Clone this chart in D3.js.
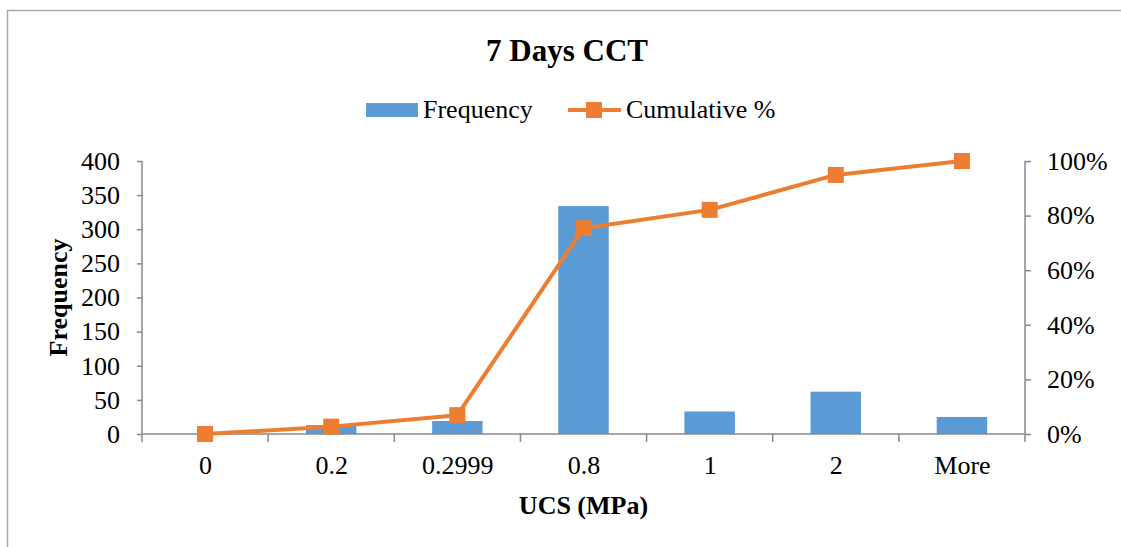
<!DOCTYPE html>
<html>
<head>
<meta charset="utf-8">
<script src="https://cdn.jsdelivr.net/npm/d3@7"></script>
<style>
  html, body { margin: 0; background: #fff; overflow: hidden; }
  svg { display: block; }
  text { font-family: "Liberation Serif", "Times New Roman", serif; fill: #000; }
</style>
</head>
<body>
<div id="graphic"></div>
<script>
//data
var categories = ["0", "0.2", "0.2999", "0.8", "1", "2", "More"];
var frequency = [0, 13, 19, 334, 33, 62, 25];
var cumulative = [0, 2.7, 6.9, 75.4, 82.1, 94.9, 100];
var freqTicks = [0, 50, 100, 150, 200, 250, 300, 350, 400];
var pctTicks = [0, 20, 40, 60, 80, 100];

var colors = { bar: "#5B9BD5", line: "#ED7D31", axis: "#898989" };

var width = 1121, height = 547;
var margin = { top: 161, left: 142, right: 96, bottom: 113 };
var w = width - margin.left - margin.right;
var h = height - margin.top - margin.bottom;

var svg = d3.select("#graphic").append("svg")
    .attr("width", width)
    .attr("height", height);

//chart frame: only top and left edges are in view
svg.append("line")
    .attr("x1", 7.5).attr("x2", 7.5)
    .attr("y1", 10).attr("y2", height)
    .attr("stroke", "#a6a6a6").attr("stroke-width", 1.5);
svg.append("line")
    .attr("x1", 7).attr("x2", width + 10)
    .attr("y1", 10.5).attr("y2", 10.5)
    .attr("stroke", "#a6a6a6").attr("stroke-width", 1.5);

var g = svg.append("g").attr("transform", "translate(" + margin.left + "," + margin.top + ")");

var x = d3.scaleBand().domain(categories).range([0, w]).paddingInner(0.6).paddingOuter(0.3);
var xPos = d3.scalePoint().domain(categories).range([0, w]).padding(0.5);
var y = d3.scaleLinear().domain([0, 400]).range([h, 0]);
var y2 = d3.scaleLinear().domain([0, 100]).range([h, 0]);

//bars
g.selectAll("rect.bar")
    .data(frequency)
    .enter().append("rect")
        .attr("class", "bar")
        .attr("x", function(d, i) { return xPos(categories[i]) - x.bandwidth() / 2; })
        .attr("y", function(d) { return y(d); })
        .attr("width", x.bandwidth())
        .attr("height", function(d) { return h - y(d); })
        .attr("fill", colors.bar);

//left axis
var yAxis = g.append("g")
    .call(d3.axisLeft(y).tickValues(freqTicks).tickSize(5).tickPadding(17));
//right axis
var y2Axis = g.append("g")
    .attr("transform", "translate(" + w + ",0)")
    .call(d3.axisRight(y2).tickValues(pctTicks).tickSize(6).tickPadding(16)
        .tickFormat(function(d) { return d + "%"; }));
//bottom axis, ticks between categories
var step = w / categories.length;
var xAxis = g.append("g")
    .attr("transform", "translate(0," + h + ")")
    .call(d3.axisBottom(xPos).tickSize(0).tickPadding(22));
xAxis.selectAll(".sep")
    .data(d3.range(categories.length + 1))
    .enter().append("line")
        .attr("class", "sep")
        .attr("x1", function(d) { return d * step; })
        .attr("x2", function(d) { return d * step; })
        .attr("y1", 0).attr("y2", 8);

[yAxis, y2Axis, xAxis].forEach(function(a) {
    a.selectAll("path").attr("stroke", colors.axis).attr("stroke-width", 1.5);
    a.selectAll("line").attr("stroke", colors.axis).attr("stroke-width", 1.5);
    a.selectAll("text").style("font-size", "26px").attr("fill", "#000");
});
yAxis.select("path").attr("d", "M0,0V" + h);
y2Axis.select("path").attr("d", "M0,0V" + h);
xAxis.select("path").attr("d", "M0,0H" + w);

//cumulative line
var line = d3.line()
    .x(function(d, i) { return xPos(categories[i]); })
    .y(function(d) { return y2(d); });

g.append("path")
    .datum(cumulative)
    .attr("d", line)
    .attr("fill", "none")
    .attr("stroke", colors.line)
    .attr("stroke-width", 4)
    .attr("stroke-linejoin", "round");

var mk = 16;
g.selectAll("rect.marker")
    .data(cumulative)
    .enter().append("rect")
        .attr("class", "marker")
        .attr("x", function(d, i) { return xPos(categories[i]) - mk / 2; })
        .attr("y", function(d) { return y2(d) - mk / 2; })
        .attr("width", mk).attr("height", mk)
        .attr("fill", colors.line);

//title
svg.append("text")
    .attr("x", 567).attr("y", 61)
    .attr("text-anchor", "middle")
    .style("font-size", "31px").style("font-weight", "bold")
    .text("7 Days CCT");

//axis titles
svg.append("text")
    .attr("x", margin.left + w / 2).attr("y", 514)
    .attr("text-anchor", "middle")
    .style("font-size", "26px").style("font-weight", "bold")
    .text("UCS (MPa)");

svg.append("text")
    .attr("transform", "translate(67," + (margin.top + h / 2) + ") rotate(-90)")
    .attr("text-anchor", "middle")
    .style("font-size", "26px").style("font-weight", "bold")
    .text("Frequency");

//legend
var legend = svg.append("g").attr("class", "legend");
legend.append("rect")
    .attr("x", 366).attr("y", 103)
    .attr("width", 52).attr("height", 14)
    .attr("fill", colors.bar);
legend.append("text")
    .attr("x", 423).attr("y", 118)
    .style("font-size", "26px")
    .text("Frequency");
legend.append("line")
    .attr("x1", 568).attr("x2", 621)
    .attr("y1", 110).attr("y2", 110)
    .attr("stroke", colors.line).attr("stroke-width", 4);
legend.append("rect")
    .attr("x", 586).attr("y", 102)
    .attr("width", 16).attr("height", 16)
    .attr("fill", colors.line);
legend.append("text")
    .attr("x", 626).attr("y", 118)
    .style("font-size", "26px")
    .text("Cumulative %");
</script>
</body>
</html>
